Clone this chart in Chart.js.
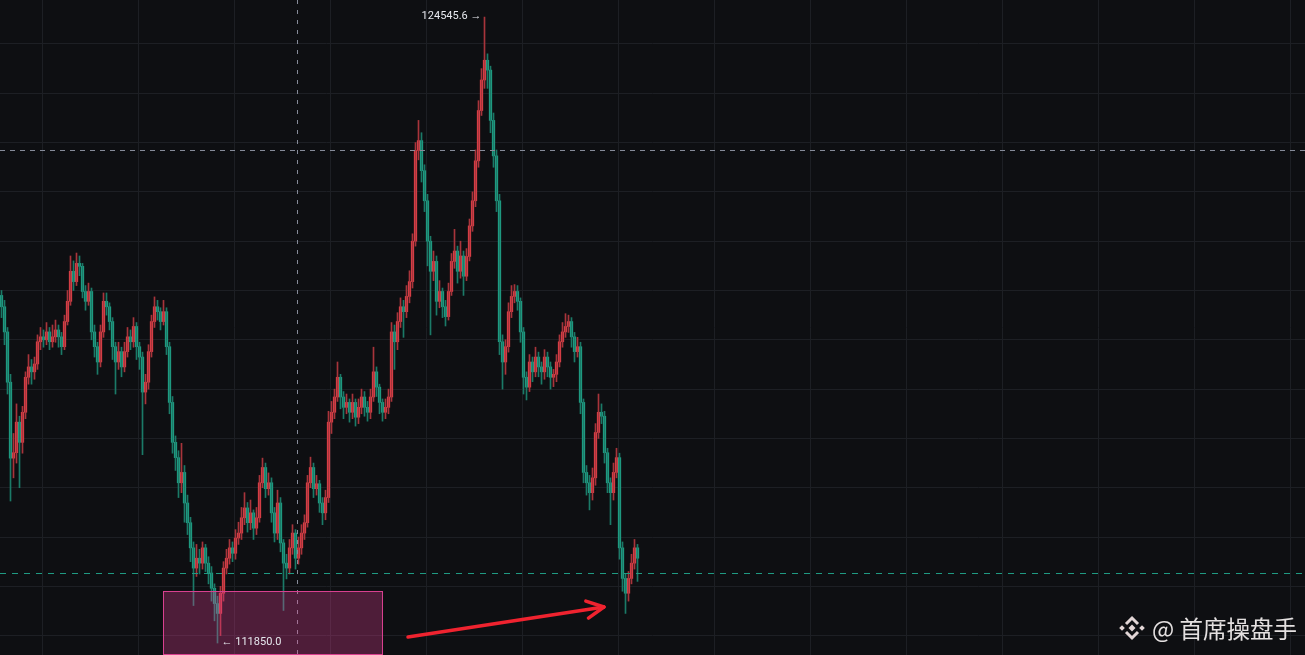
<!DOCTYPE html>
<html>
<head>
<meta charset="utf-8">
<script src="https://cdn.jsdelivr.net/npm/chart.js@4.4.1/dist/chart.umd.min.js"></script>
<style>
  html, body { margin: 0; padding: 0; background: #0e0f12; overflow: hidden; }
  #wrap { width: 1305px; height: 655px; }
</style>
</head>
<body>
<div id="wrap"><canvas id="c" width="1305" height="655"></canvas></div>
<script>
// candle values (USDT), one per bar, left to right
const opens = [118900,118670,118160,117140,115600,115710,116330,115920,116530,117240,
 117450,117350,117510,117960,118060,118000,118160,117960,118060,118200,
 118060,117860,118370,118780,119390,119180,119550,119490,118980,118780,
 118980,118160,117860,117550,118160,118780,118670,118370,117860,117550,
 117760,117450,117760,118060,117960,118270,117860,117650,116940,117140,
 117760,118370,118670,118570,118370,118570,117860,116730,115920,115610,
 115100,115310,114690,114290,113780,113370,113570,113470,113780,113470,
 113270,112960,112650,112450,112860,113370,113570,113780,113670,113980,
 114080,114390,114590,114290,114490,114180,114390,115100,115410,114980,
 115100,114490,114080,114690,113880,113470,113370,113780,114080,113570,
 113780,114080,114290,115100,115410,114980,115080,114690,114490,114800,
 116330,116530,116840,117240,116840,116630,116730,116530,116730,116430,
 116630,116840,116630,116530,116840,117350,117040,116730,116530,116630,
 116840,118160,117960,118370,118670,118570,118880,119180,120000,121840,
 122040,121430,120820,120000,119390,119590,118780,118980,118670,118470,
 118980,119590,119800,119390,119700,119290,119690,120310,120820,121630,
 122650,123270,123670,123470,122450,121730,120820,117960,117550,117860,
 118570,118880,118980,118780,118160,117240,117040,117550,117350,117650,
 117450,117350,117650,117450,117240,117300,117550,117960,118160,118270,
 118370,118060,117760,117860,116730,115310,115100,114900,115200,116120,
 116530,116450,115710,115100,114900,115310,115610,113780,113160,112860,
 113160,113470,113780];

const closes = [118670,118160,117140,115600,115710,116330,115920,116530,117240,117450,
 117350,117510,117960,118060,118000,118160,117960,118060,118200,118060,
 117860,118370,118780,119390,119180,119550,119490,118980,118780,118980,
 118160,117860,117550,118160,118780,118670,118370,117860,117550,117760,
 117450,117760,118060,117960,118270,117860,117650,116940,117140,117760,
 118370,118670,118570,118370,118570,117860,116730,115920,115610,115100,
 115310,114690,114290,113780,113370,113570,113470,113780,113470,113270,
 112960,112650,112450,112860,113370,113570,113780,113670,113980,114080,
 114390,114590,114290,114490,114180,114390,115100,115410,114980,115100,
 114490,114080,114690,113880,113470,113370,113780,114080,113570,113780,
 114080,114290,115100,115410,114980,115080,114690,114490,114800,116330,
 116530,116840,117240,116840,116630,116730,116530,116730,116430,116630,
 116840,116630,116530,116840,117350,117040,116730,116530,116630,116840,
 118160,117960,118370,118670,118570,118880,119180,120000,121840,122040,
 121430,120820,120000,119390,119590,118780,118980,118670,118470,118980,
 119590,119800,119390,119700,119290,119690,120310,120820,121630,122650,
 123270,123670,123470,122450,121730,120820,117960,117550,117860,118570,
 118880,118980,118780,118160,117240,117040,117550,117350,117650,117450,
 117350,117650,117450,117240,117300,117550,117960,118160,118270,118370,
 118060,117760,117860,116730,115310,115100,114900,115200,116120,116530,
 116450,115710,115100,114900,115310,115610,113780,113160,112860,113160,
 113470,113780,113570];

const highs = [119000,118800,118250,117300,116100,116700,116450,116650,117350,117700,
 117600,117650,118100,118250,118200,118350,118250,118300,118400,118300,
 118150,118500,119000,119700,119600,119760,119700,119550,119100,119150,
 119050,118300,117950,118300,118950,118950,118750,118450,117950,117950,
 117850,117950,118250,118200,118450,118350,117950,117750,117300,117900,
 118500,118870,118800,118650,118800,118650,117950,116850,116050,115750,
 115900,115450,114850,114400,113900,113850,113750,113900,113850,113600,
 113400,113050,112800,113000,113500,113750,113950,113900,114150,114300,
 114600,114900,114700,114750,114550,114600,115250,115600,115500,115300,
 115200,114600,114950,114800,113950,113650,113950,114250,114150,114000,
 114250,114450,115250,115620,115500,115250,115150,114800,114950,116550,
 116750,117000,117550,117300,116950,116900,116800,116900,116800,116800,
 117000,116950,116750,117000,117850,117450,117100,116800,116800,117000,
 118350,118300,118550,118850,118800,119100,119400,120150,122000,122450,
 122200,121550,120950,120100,119800,119700,119200,119050,118800,119150,
 119750,120240,119900,120000,119800,119850,120450,121000,121850,122850,
 123500,124545.6,123800,123550,122600,121850,120950,118100,118000,118750,
 119100,119120,119100,118850,118250,117350,117700,117650,117850,117750,
 117550,117800,117750,117550,117400,117700,118100,118350,118530,118500,
 118450,118150,118050,117950,116800,115450,115250,115400,116300,116900,
 116700,116550,115800,115200,115500,115800,115700,113900,113250,113300,
 113650,113950,113850];

const lows = [118450,117900,116900,114730,115200,115500,115000,115700,116400,117100,
 117100,117200,117400,117800,117850,117900,117800,117850,117950,117850,
 117700,117800,118300,118700,119000,119100,119300,118850,118600,118700,
 118000,117650,117300,117450,118050,118500,118200,117600,116900,117400,
 117250,117350,117650,117800,117850,117600,117400,115670,116700,117000,
 117650,118250,118400,118200,118300,117700,116500,115700,115350,114800,
 114900,114300,114050,113500,112610,113200,113250,113350,113300,113050,
 112700,112300,111850,112000,112700,113250,113450,113500,113550,113850,
 113950,114250,114100,114150,113950,114050,114300,115000,114800,114850,
 114300,113900,113950,113700,112510,113150,113250,113650,113350,113450,
 113650,113950,114200,115000,114800,114850,114500,114250,114350,114700,
 116100,116400,116750,116600,116400,116500,116330,116400,116250,116300,
 116500,116450,116350,116400,116750,116850,116500,116350,116400,116500,
 116750,117400,117800,118250,118050,118450,118750,119050,119900,121650,
 121200,120600,119500,118100,119200,118500,118650,118450,118280,118400,
 118900,119450,119150,119250,118900,119200,119600,120200,120700,121500,
 122550,123100,123100,122200,121500,120600,117700,117000,117300,117750,
 118450,118750,118600,117950,116900,116780,116950,117150,117250,117250,
 117100,117200,117250,117000,117050,117150,117450,117850,118050,118150,
 117850,117550,117650,116500,115100,114850,114550,114750,115050,116000,
 116300,115500,114900,114250,114750,115200,113550,112900,112450,112700,
 113050,113350,113100];

// price axis and markers
const priceMin = 111607, priceMax = 124892, priceStep = 1000;
const gridFrom = 112000, gridTo = 124000;
const slotCount = 435;          // bar slots across the visible range
const timeGridFirst = 13.5, timeGridStep = 32;
const highIndex = 161, highText = '124545.6';
const lowIndex = 72, lowText = '111850.0';
const crossIndex = 98.5, crossPrice = 121850;
const markPrice = 113270;
const zoneFrom = 53.8, zoneTo = 127.2, zoneTop = 112905;
const arrowFrom = [135.5, 111972], arrowTo = [200.8, 112580];
const watermark = '@ 首席操盘手';

const UP = '#ea424b', DOWN = '#21a98d';
const UP_WICK = '#a8343b', DOWN_WICK = '#1b7a67';

const wickData = closes.map((c, i) => ({ x: i, y: [lows[i], highs[i]] }));
const bodyData = closes.map((c, i) => ({ x: i, y: [opens[i], c] }));
const isUp = i => closes[i] >= opens[i];

function line(ctx, x1, y1, x2, y2) {
  ctx.beginPath(); ctx.moveTo(x1, y1); ctx.lineTo(x2, y2); ctx.stroke();
}

const overlay = {
  id: 'overlay',
  afterDatasetsDraw(chart) {
    const { ctx, chartArea: a, scales: { x, y } } = chart;
    ctx.save();

    // crosshair
    ctx.lineWidth = 1;
    ctx.strokeStyle = '#868b99';
    ctx.setLineDash([5, 5]);
    const cy = Math.round(y.getPixelForValue(crossPrice)) + 0.5;
    line(ctx, a.left, cy, a.right, cy);
    ctx.setLineDash([4, 6]);
    const cx = Math.round(x.getPixelForValue(crossIndex)) + 0.5;
    line(ctx, cx, a.top, cx, a.bottom);

    // price mark line
    ctx.strokeStyle = '#1f9a82';
    ctx.setLineDash([6, 6]);
    const my = Math.round(y.getPixelForValue(markPrice)) + 0.5;
    line(ctx, a.left, my, a.right, my);
    ctx.setLineDash([]);

    // zone box
    const zx1 = Math.round(x.getPixelForValue(zoneFrom));
    const zx2 = Math.round(x.getPixelForValue(zoneTo));
    const zy = Math.round(y.getPixelForValue(zoneTop));
    ctx.fillStyle = 'rgba(228,62,150,0.3)';
    ctx.fillRect(zx1, zy, zx2 - zx1, a.bottom - zy);
    ctx.strokeStyle = '#d8408f';
    ctx.strokeRect(zx1 + 0.5, zy + 0.5, zx2 - zx1 - 1, a.bottom - zy - 1);

    // high / low labels
    ctx.font = '11px Roboto, sans-serif';
    ctx.fillStyle = '#e6e8ee';
    ctx.textBaseline = 'middle';
    ctx.textAlign = 'right';
    ctx.fillText(highText + ' \u2192', x.getPixelForValue(highIndex) - 3, y.getPixelForValue(highs[highIndex]) - 1);
    ctx.textAlign = 'left';
    ctx.fillText('\u2190 ' + lowText, x.getPixelForValue(lowIndex) + 4, y.getPixelForValue(lows[lowIndex]) - 1);

    // red arrow
    const ax1 = x.getPixelForValue(arrowFrom[0]), ay1 = y.getPixelForValue(arrowFrom[1]);
    const ax2 = x.getPixelForValue(arrowTo[0]), ay2 = y.getPixelForValue(arrowTo[1]);
    ctx.strokeStyle = '#f0232f';
    ctx.lineWidth = 3.5;
    ctx.lineCap = 'round';
    line(ctx, ax1, ay1, ax2, ay2);
    const ang = Math.atan2(ay2 - ay1, ax2 - ax1);
    [0.47, -0.47].forEach(d => {
      line(ctx, ax2, ay2, ax2 - 19 * Math.cos(ang + d), ay2 - 19 * Math.sin(ang + d));
    });

    // watermark
    const wx = a.right - 8, wy = a.bottom - 27;
    ctx.fillStyle = '#e4e0e0';
    ctx.font = '23.5px "Noto Sans CJK SC", sans-serif';
    ctx.textAlign = 'right';
    ctx.textBaseline = 'middle';
    ctx.fillText(watermark, wx, wy + 1);
    const tw = ctx.measureText(watermark).width;
    const lx = wx - tw - 20, ly = wy;
    ctx.fillStyle = '#e2d6d6';
    ctx.strokeStyle = '#e2d6d6';
    ctx.lineWidth = 3;
    ctx.lineCap = 'butt';
    const dia = (px, py, r) => {
      ctx.beginPath(); ctx.moveTo(px, py - r); ctx.lineTo(px + r, py);
      ctx.lineTo(px, py + r); ctx.lineTo(px - r, py); ctx.closePath(); ctx.fill();
    };
    dia(lx, ly, 3.5);
    dia(lx - 10, ly, 2.8);
    dia(lx + 10, ly, 2.8);
    ctx.beginPath(); ctx.moveTo(lx - 6, ly - 4); ctx.lineTo(lx, ly - 10); ctx.lineTo(lx + 6, ly - 4); ctx.stroke();
    ctx.beginPath(); ctx.moveTo(lx - 6, ly + 4); ctx.lineTo(lx, ly + 10); ctx.lineTo(lx + 6, ly + 4); ctx.stroke();

    ctx.restore();
  }
};

new Chart(document.getElementById('c'), {
  type: 'bar',
  data: {
    datasets: [
      {
        label: 'wick',
        data: wickData,
        grouped: false,
        barThickness: 1,
        minBarLength: 1,
        backgroundColor: ctx => isUp(ctx.dataIndex) ? UP_WICK : DOWN_WICK,
        borderWidth: 0
      },
      {
        label: 'body',
        data: bodyData,
        grouped: false,
        barThickness: 2.6,
        minBarLength: 1,
        backgroundColor: ctx => isUp(ctx.dataIndex) ? UP : DOWN,
        borderWidth: 0
      }
    ]
  },
  options: {
    responsive: false,
    animation: false,
    layout: { padding: 0 },
    plugins: { legend: { display: false }, tooltip: { enabled: false } },
    scales: {
      x: {
        type: 'linear',
        min: -0.5,
        max: slotCount - 0.5,
        offset: false,
        border: { display: false },
        grid: { color: '#1d1f24', drawTicks: false, offset: false },
        ticks: { display: false },
        afterBuildTicks: s => {
          const t = [];
          for (let v = timeGridFirst; v < slotCount; v += timeGridStep) t.push({ value: v });
          s.ticks = t;
        },
        afterFit: s => { s.height = 0; }
      },
      y: {
        min: priceMin,
        max: priceMax,
        border: { display: false },
        grid: { color: '#1d1f24', drawTicks: false },
        ticks: { display: false },
        afterBuildTicks: s => {
          const t = [];
          for (let v = gridFrom; v <= gridTo; v += priceStep) t.push({ value: v });
          s.ticks = t;
        },
        afterFit: s => { s.width = 0; }
      }
    }
  },
  plugins: [overlay]
});
</script>
</body>
</html>
